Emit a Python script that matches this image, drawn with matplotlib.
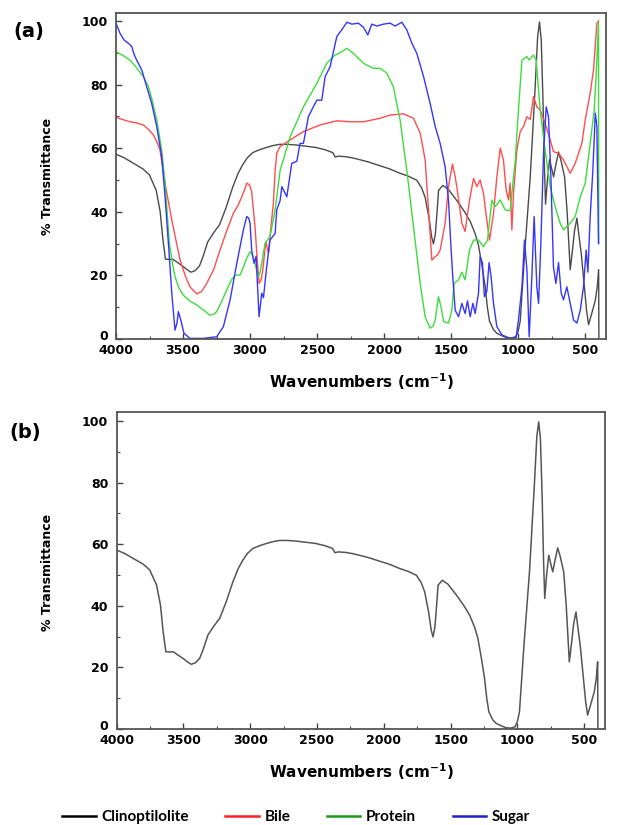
import matplotlib
matplotlib.use("Agg")
import matplotlib.pyplot as plt
from matplotlib.lines import Line2D
from matplotlib.ticker import MultipleLocator
from matplotlib.transforms import ScaledTranslation

# ---------------- data (wavenumber cm-1, % transmittance) ----------------
clino_wn = [4000, 3940, 3876, 3800, 3751, 3700, 3671, 3651, 3631, 3600, 3576, 3540, 3502, 3470,
            3440, 3410, 3378, 3350, 3316, 3270, 3228, 3179, 3129, 3090, 3055, 3020, 2980, 2930,
            2880, 2830, 2781, 2720, 2657, 2580, 2507, 2440, 2383, 2365, 2340, 2283, 2230, 2184,
            2120, 2055, 1960, 1881, 1820, 1756, 1720, 1694, 1665, 1645, 1632, 1618, 1605, 1594,
            1562, 1520, 1457, 1400, 1358, 1320, 1296, 1270, 1246, 1230, 1214, 1185, 1159, 1120,
            1085, 1050, 1018, 1000, 985, 950, 910, 875, 855, 841, 828, 815, 805, 796, 782, 766,
            750, 736, 718, 699, 680, 654, 635, 612, 595, 580, 562, 548, 530, 510, 490, 475, 455,
            425, 410, 400, 398]
clino_t = [58.1, 57.0, 55.4, 53.5, 51.6, 46.7, 40.2, 31.6, 25.1, 25.0, 25.1, 24.0, 22.9, 21.8,
           21.0, 21.5, 22.9, 26.0, 30.5, 33.5, 35.9, 41.3, 47.8, 52.0, 54.8, 57.0, 58.6, 59.5,
           60.2, 60.8, 61.2, 61.2, 61.0, 60.6, 60.2, 59.5, 58.6, 57.2, 57.5, 57.3, 56.9, 56.4,
           55.7, 54.8, 53.5, 52.1, 51.2, 49.9, 47.5, 44.5, 38.0, 32.0, 29.9, 33.0, 40.0, 46.7,
           48.3, 47.0, 43.5, 40.0, 37.0, 33.0, 29.4, 23.0, 16.4, 10.0, 5.6, 3.0, 1.8, 1.0,
           0.4, 0.3, 0.7, 2.5, 5.6, 28.0, 51.0, 78.0, 95.0, 99.7, 94.0, 75.0, 55.0, 42.4, 50.0, 56.4,
           53.5, 51.0, 55.0, 58.8, 56.0, 51.0, 40.0, 21.8, 28.0, 34.0, 38.0, 33.0, 27.0, 18.0, 9.0, 4.5, 7.5,
           12.1, 16.5, 21.8, 0.0]

bile_wn = [4000, 3950, 3896, 3850, 3796, 3760, 3722, 3695, 3672, 3634, 3584, 3550, 3522, 3480,
           3448, 3398, 3360, 3323, 3270, 3224, 3170, 3125, 3090, 3062, 3040, 3025, 3005, 2988,
           2963, 2945, 2933, 2918, 2905, 2883, 2863, 2845, 2826, 2813, 2801, 2776, 2701, 2602,
           2478, 2353, 2250, 2154, 2030, 1955, 1856, 1781, 1731, 1694, 1669, 1644, 1619, 1600,
           1582, 1545, 1520, 1490, 1470, 1458, 1420, 1396, 1363, 1333, 1308, 1284, 1259, 1234,
           1214, 1184, 1159, 1134, 1110, 1090, 1072, 1060, 1047, 1035, 1010, 985, 960, 935, 910,
           886, 861, 836, 799, 761, 737, 699, 662, 612, 575, 525, 500, 463, 438, 413, 400]
bile_t = [69.7, 69.0, 68.3, 68.0, 67.3, 66.0, 64.2, 62.0, 59.4, 49.0, 37.4, 30.5, 24.8, 19.5,
          16.4, 14.2, 15.0, 17.5, 22.0, 28.0, 34.5, 39.5, 42.0, 44.7, 47.0, 49.0, 48.5, 46.3,
          35.3, 24.0, 17.5, 18.5, 21.7, 30.6, 27.0, 35.0, 42.7, 53.0, 58.4, 60.5, 62.6, 65.2,
          67.3, 68.6, 68.3, 68.3, 69.4, 70.4, 70.8, 69.4, 64.7, 56.3, 40.6, 24.8, 25.9, 26.5,
          28.0, 36.4, 47.9, 55.0, 51.0, 47.9, 36.4, 33.8, 43.7, 50.5, 47.9, 50.0, 45.8, 37.4,
          31.1, 39.5, 51.0, 60.0, 56.3, 46.9, 43.7, 49.0, 34.3, 45.8, 59.4, 65.2, 66.8, 69.9, 69.0,
          76.2, 73.0, 72.0, 67.8, 62.6, 58.9, 58.4, 56.3, 52.1, 55.2, 61.5, 68.9, 77.3, 84.6, 99.3, 100.0]

protein_wn = [4000, 3950, 3896, 3850, 3796, 3760, 3734, 3696, 3659, 3634, 3602, 3580, 3560, 3530,
              3498, 3450, 3398, 3350, 3299, 3270, 3249, 3210, 3174, 3140, 3112, 3075, 3050, 3025,
              3000, 2985, 2970, 2938, 2925, 2913, 2888, 2851, 2813, 2776, 2701, 2602, 2502, 2428,
              2366, 2328, 2278, 2229, 2154, 2080, 2030, 1980, 1931, 1881, 1831, 1781, 1731, 1694,
              1657, 1635, 1619, 1595, 1575, 1557, 1520, 1495, 1478, 1445, 1420, 1396, 1363, 1333,
              1296, 1259, 1229, 1196, 1172, 1134, 1097, 1060, 1022, 998, 972, 935, 918, 886, 866,
              836, 799, 761, 724, 687, 662, 612, 575, 537, 500, 463, 433, 413, 401, 399]
protein_t = [90.3, 89.2, 87.7, 85.5, 82.5, 79.5, 75.7, 68.9, 59.4, 49.0, 30.1, 24.0, 19.6, 16.0,
             13.8, 12.0, 10.7, 9.2, 7.5, 7.8, 8.6, 12.0, 15.4, 18.5, 20.1, 20.1, 22.5, 25.4,
             27.5, 26.5, 24.8, 19.6, 21.0, 23.8, 30.1, 32.2, 40.6, 53.0, 63.6, 73.0, 80.4, 86.7,
             89.3, 90.0, 91.4, 89.8, 86.7, 85.1, 85.1, 83.6, 79.3, 68.9, 53.1, 35.3, 17.5, 7.0,
             3.4, 4.0, 6.0, 13.3, 10.0, 5.5, 5.0, 9.1, 17.5, 18.6, 21.0, 18.6, 28.0, 31.1,
             31.1, 29.0, 31.1, 43.7, 41.6, 43.7, 40.6, 40.3, 56.3, 72.0, 87.7, 88.8, 87.7, 89.3, 87.7,
             72.0, 59.4, 47.9, 41.6, 36.4, 34.3, 36.4, 38.5, 44.7, 49.0, 61.5, 72.0, 87.7, 99.5, 30.0]

sugar_wn = [4000, 3970, 3940, 3908, 3883, 3865, 3846, 3808, 3771, 3734, 3696, 3659, 3634, 3609,
            3584, 3560, 3545, 3535, 3517, 3493, 3448, 3349, 3249, 3199, 3149, 3099, 3050, 3025,
            3010, 3000, 2988, 2970, 2955, 2933, 2913, 2900, 2876, 2851, 2813, 2801, 2776, 2763,
            2726, 2689, 2651, 2627, 2602, 2565, 2528, 2502, 2465, 2440, 2403, 2353, 2316, 2278,
            2241, 2192, 2154, 2122, 2092, 2055, 2005, 1955, 1918, 1868, 1831, 1793, 1756, 1706,
            1657, 1619, 1582, 1545, 1520, 1503, 1488, 1470, 1445, 1420, 1396, 1378, 1358, 1338,
            1321, 1296, 1284, 1267, 1252, 1234, 1217, 1202, 1184, 1159, 1122, 1060, 1015, 998,
            972, 953, 935, 918, 898, 881, 861, 848, 831, 811, 791, 774, 756, 737, 719, 699, 679,
            662, 637, 612, 587, 562, 537, 513, 493, 480, 463, 443, 425, 413, 401]
sugar_t = [99.3, 96.1, 94.0, 93.0, 92.0, 89.5, 87.7, 84.6, 79.3, 74.1, 66.8, 57.3, 44.7, 30.1,
           14.4, 2.8, 5.0, 8.6, 6.0, 1.8, 0.2, 0.2, 0.7, 3.9, 12.3, 23.8, 34.3, 38.5,
           38.0, 36.4, 28.0, 23.8, 26.0, 7.0, 14.4, 13.0, 22.7, 31.1, 33.2, 40.6, 43.5, 47.9,
           44.7, 55.2, 55.9, 61.5, 61.5, 69.9, 73.0, 75.1, 75.1, 82.5, 85.6, 95.1, 97.2, 99.6,
           99.0, 99.3, 98.0, 95.6, 99.0, 98.4, 99.0, 99.3, 98.4, 99.6, 97.2, 93.0, 89.8, 82.5,
           74.1, 66.8, 61.5, 54.2, 43.7, 30.1, 19.6, 9.1, 7.0, 11.2, 8.0, 12.0, 7.0, 11.2,
           8.0, 14.4, 25.9, 24.0, 13.3, 15.0, 24.0, 19.6, 11.2, 3.9, 1.3, 0.2, 0.6, 6.0,
           16.4, 31.1, 21.7, 0.7, 19.6, 38.5, 16.4, 11.2, 30.0, 58.4, 73.0, 69.9, 51.0, 22.7, 17.5, 24.0, 14.4,
           12.3, 16.4, 11.2, 6.0, 5.0, 9.0, 16.4, 28.0, 21.0, 38.5, 53.1, 71.0, 67.0, 30.0]

series_names = ["Clinoptilolite", "Bile", "Protein", "Sugar"]
plot_colors = ["#4a4a4a", "#ff4d4d", "#3ddc3d", "#3535ff"]
legend_colors = ["#000000", "#ff2020", "#1a9a1a", "#2020d0"]
x_ticks = [4000, 3500, 3000, 2500, 2000, 1500, 1000, 500]
y_ticks = [0, 20, 40, 60, 80, 100]

# ---------------- figure ----------------
W, H = 627, 825
fig = plt.figure(figsize=(W / 100, H / 100), dpi=100)
ax1 = fig.add_axes([116 / W, 1 - 339 / H, (606 - 116) / W, (339 - 13) / H])
ax2 = fig.add_axes([116.5 / W, 1 - 729 / H, (605 - 116.5) / W, (729 - 412) / H])

tick_font = dict(family="DejaVu Sans", weight="bold", size=9)

def style(ax, ytop):
    ax.set_xlim(4000, 345)
    ax.set_ylim(0, ytop)
    ax.set_xticks(x_ticks)
    ax.set_yticks(y_ticks)
    ax.xaxis.set_minor_locator(MultipleLocator(250))
    ax.yaxis.set_minor_locator(MultipleLocator(10))
    ax.tick_params(which="both", direction="in", color="#444444", top=False, right=False)
    ax.tick_params(which="major", length=4, width=1.0)
    ax.tick_params(which="minor", length=2.5, width=0.8)
    ax.tick_params(axis="x", pad=3.5)
    ax.tick_params(axis="y", pad=6)
    for lab in ax.get_xticklabels() + ax.get_yticklabels():
        lab.set_fontproperties(matplotlib.font_manager.FontProperties(**tick_font))
    for sp in ax.spines.values():
        sp.set_color("#555555")
        sp.set_linewidth(1.3)
    # lift the "0" label slightly so it clears the "4000" label below it
    zero = ax.yaxis.get_major_ticks()[0].label1
    zero.set_transform(zero.get_transform() + ScaledTranslation(0, 4 / 100, fig.dpi_scale_trans))

lw = 1.0
ax1.plot(clino_wn, clino_t, color=plot_colors[0], lw=lw)
ax1.plot(bile_wn, bile_t, color=plot_colors[1], lw=lw)
ax1.plot(protein_wn, protein_t, color=plot_colors[2], lw=lw)
ax1.plot(sugar_wn, sugar_t, color=plot_colors[3], lw=lw)
ax2.plot(clino_wn, clino_t, color="#555555", lw=1.1)

style(ax1, 102.5)
style(ax2, 102.9)

lab_font = dict(family="DejaVu Sans", weight="bold")
fig.text(29 / W, 1 - 32 / H, "(a)", fontsize=14, ha="center", va="center", **lab_font)
fig.text(25 / W, 1 - 432 / H, "(b)", fontsize=14, ha="center", va="center", **lab_font)
fig.text(47.5 / W, 1 - 176 / H, "% Transmittance", rotation=90, fontsize=9,
         ha="center", va="center", **lab_font)
fig.text(47.5 / W, 1 - 572 / H, "% Transmittance", rotation=90, fontsize=9,
         ha="center", va="center", **lab_font)
fig.text(361 / W, 1 - 382 / H, r"Wavenumbers (cm$^{\mathbf{-1}}$)", fontsize=11,
         ha="center", va="center", **lab_font)
fig.text(361 / W, 1 - 772 / H, r"Wavenumbers (cm$^{\mathbf{-1}}$)", fontsize=11,
         ha="center", va="center", **lab_font)

handles = [Line2D([], [], color=c, lw=1.8) for c in legend_colors]
fig.legend(handles, series_names, loc="center", bbox_to_anchor=(296 / W, 1 - 817 / H),
           ncol=4, frameon=False, handlelength=2.2, handletextpad=0.35, columnspacing=2.4,
           prop=dict(family="Lato", weight="bold", size=11))

fig.savefig("out.png", dpi=100)
